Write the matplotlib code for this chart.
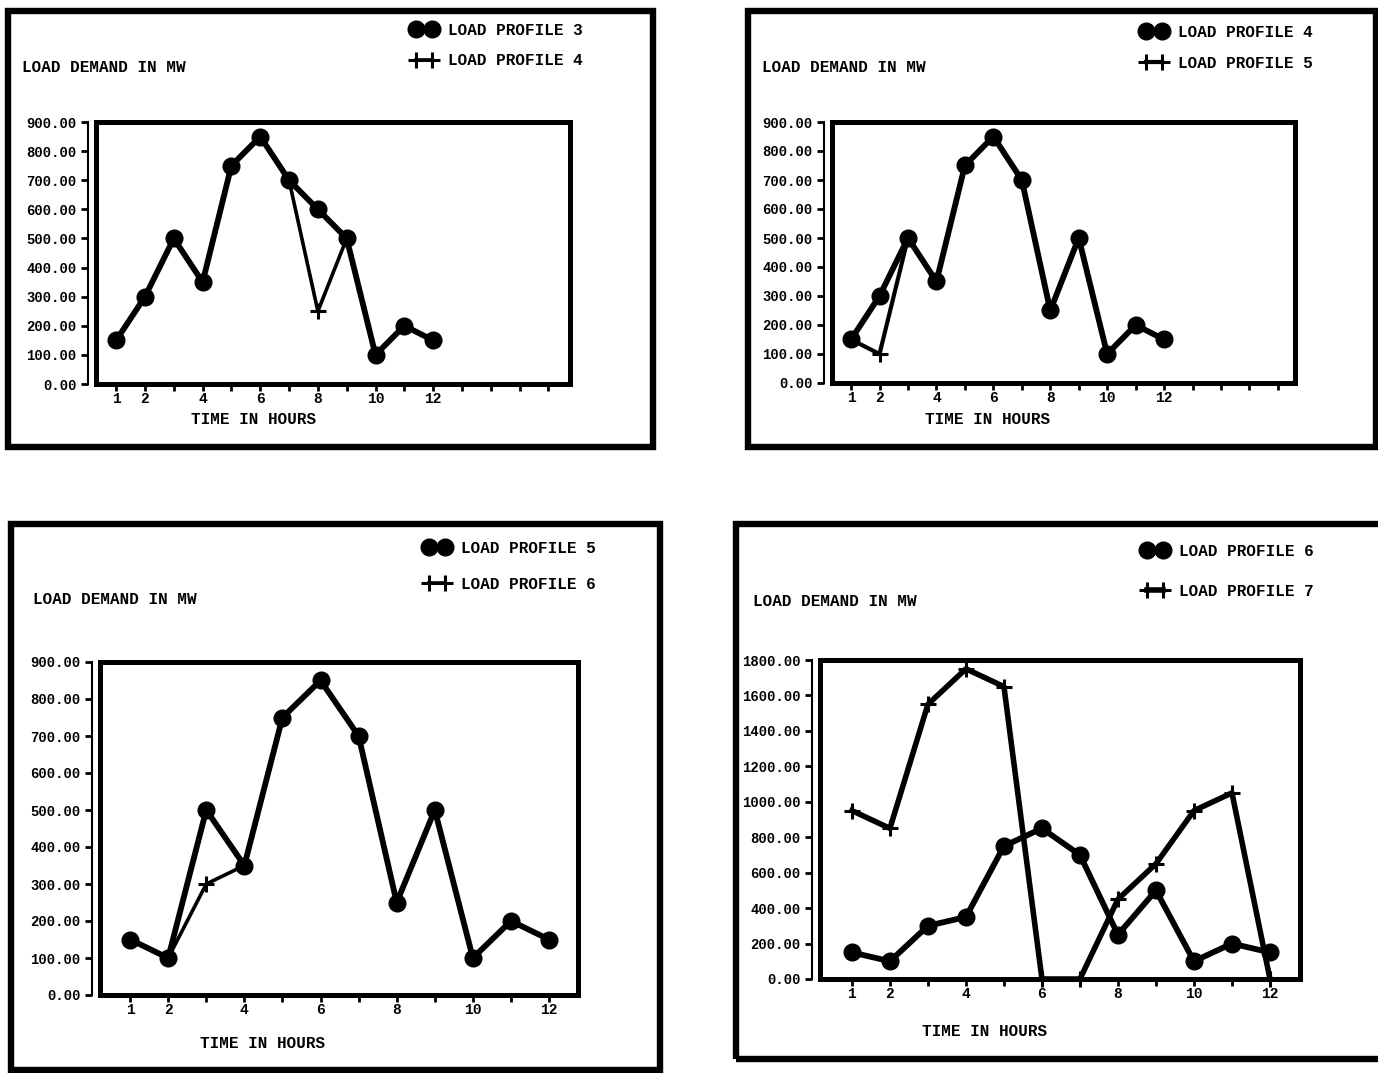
import matplotlib
matplotlib.use("Agg")
import matplotlib.pyplot as plt
from matplotlib.patches import Rectangle

plt.rcParams['font.family'] = ['Liberation Mono', 'DejaVu Sans Mono']
plt.rcParams['font.weight'] = 'bold'

W, H = 1378, 1073
DPI = 100

# ---------------- data ----------------
hours = [1, 2, 3, 4, 5, 6, 7, 8, 9, 10, 11, 12]
profile3 = [150, 300, 500, 350, 750, 850, 700, 600, 500, 100, 200, 150]
profile4 = [150, 300, 500, 350, 750, 850, 700, 250, 500, 100, 200, 150]
profile5 = [150, 100, 500, 350, 750, 850, 700, 250, 500, 100, 200, 150]
profile6 = [150, 100, 300, 350, 750, 850, 700, 250, 500, 100, 200, 150]
profile7 = [950, 850, 1550, 1750, 1650, 0, 0, 450, 650, 950, 1050, 0]

x_tick_labels = ['1', '2', '4', '6', '8', '10', '12']
y_ticks_900 = [0, 100, 200, 300, 400, 500, 600, 700, 800, 900]
y_ticks_1800 = [0, 200, 400, 600, 800, 1000, 1200, 1400, 1600, 1800]

ylabel_text = 'LOAD DEMAND IN MW'
xlabel_text = 'TIME IN HOURS'

fig = plt.figure(figsize=(W / DPI, H / DPI), dpi=DPI)
fig.patch.set_facecolor('white')


def fx(x):
    return x / W


def fy(y):
    return 1 - y / H


def frame(l, t, r, b):
    fig.add_artist(Rectangle((fx(l), fy(b)), fx(r) - fx(l), fy(t) - fy(b),
                             transform=fig.transFigure, fill=False,
                             lw=4.6, ec='black', clip_on=False))


def panel(box, xlim, ylim, yticks, nticks, circ, circ_name, plus, plus_name,
          plus_lw, ylab_fs, leg_anchor, leg_spacing, ylab_pos, xlab_pos):
    l, t, r, b = box
    ax = fig.add_axes([fx(l), fy(b), fx(r) - fx(l), fy(t) - fy(b)])
    ax.plot(hours, circ, color='black', lw=4.2, marker='o', ms=12,
            solid_joinstyle='round', label=circ_name, clip_on=False, zorder=3)
    ax.plot(hours, plus, color='black', lw=plus_lw, marker='+', ms=12, mew=2.2,
            label=plus_name, clip_on=False, zorder=4)
    ax.set_xlim(*xlim)
    ax.set_ylim(*ylim)
    ax.set_yticks(yticks)
    ax.set_yticklabels(['%.2f' % v for v in yticks], fontsize=ylab_fs)
    tick_pos = list(range(1, nticks + 1))
    ax.set_xticks(tick_pos)
    ax.set_xticklabels([str(p) if str(p) in x_tick_labels else '' for p in tick_pos],
                       fontsize=10.5)
    for s in ax.spines.values():
        s.set_linewidth(3.6)
    ax.spines['left'].set_position(('outward', 6))
    ax.spines['left'].set_linewidth(1.5)
    ax.add_patch(Rectangle((0, 0), 1, 1, transform=ax.transAxes, fill=False,
                           lw=3.6, ec='black', clip_on=False, zorder=5))
    ax.tick_params(axis='y', direction='out', length=5, width=2, pad=3)
    ax.tick_params(axis='x', direction='out', length=5, width=2, pad=1)
    ax.set_facecolor('white')
    ax.legend(loc='upper left', bbox_to_anchor=(fx(leg_anchor[0]), fy(leg_anchor[1])),
              bbox_transform=fig.transFigure, frameon=False, numpoints=2,
              handlelength=1.6, handletextpad=0.7, borderpad=0,
              labelspacing=leg_spacing, fontsize=11.5)
    fig.text(fx(ylab_pos[0]), fy(ylab_pos[1]), ylabel_text, fontsize=11.5,
             ha='left', va='center')
    fig.text(fx(xlab_pos[0]), fy(xlab_pos[1]), xlabel_text, fontsize=11.5,
             ha='center', va='center')
    return ax


# top-left
frame(8, 11, 653, 447)
panel((96, 122, 570, 384), (0.3, 16.75), (0, 900), y_ticks_900, 16,
      profile3, 'LOAD PROFILE 3', profile4, 'LOAD PROFILE 4', 2.6, 12,
      (403, 15), 0.95, (22, 68), (254, 420))

# top-right
frame(748, 11, 1376, 447)
panel((832, 122, 1295, 383), (0.33, 16.6), (0, 900), y_ticks_900, 16,
      profile4, 'LOAD PROFILE 4', profile5, 'LOAD PROFILE 5', 3.0, 12,
      (1133, 17), 1.0, (762, 68), (988, 420))

# bottom-left
frame(11, 524, 660, 1070)
panel((100, 662, 578, 995), (0.21, 12.76), (0, 900), y_ticks_900, 12,
      profile5, 'LOAD PROFILE 5', profile6, 'LOAD PROFILE 6', 2.6, 12,
      (416, 533), 1.3, (33, 600), (263, 1044))

# bottom-right
frame(736, 524, 1381, 1059)
panel((820, 660, 1300, 979), (0.16, 12.79), (0, 1800), y_ticks_1800, 12,
      profile6, 'LOAD PROFILE 6', profile7, 'LOAD PROFILE 7', 4.0, 12,
      (1134, 536), 1.55, (753, 602), (985, 1031))

fig.savefig('out.png', dpi=DPI, facecolor='white')
